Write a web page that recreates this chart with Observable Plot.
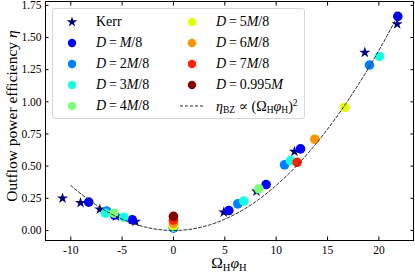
<!DOCTYPE html>
<html>
<head>
<meta charset="utf-8">
<script src="https://cdn.jsdelivr.net/npm/d3@7"></script>
<script src="https://cdn.jsdelivr.net/npm/@observablehq/plot@0.6"></script>
<style>
  html, body { margin: 0; padding: 0; background: white; }
  #wrap { position: relative; width: 415px; height: 274px; font-family: "Liberation Serif", "DejaVu Serif", serif; color: #000; }
  #wrap > svg { position: absolute; left: 0; top: 0; }
  .ylab { position: absolute; left: 12px; top: 116px; transform: translate(-50%, -50%) rotate(-90deg); white-space: nowrap; font-size: 15.5px; }
  .xlab { position: absolute; left: 229px; top: 263px; transform: translate(-50%, -50%); white-space: nowrap; font-size: 15.5px; }
  .legend { position: absolute; left: 52px; top: 8px; width: 253px; height: 111px; border: 1px solid #d6d6d6; border-radius: 3px; background: rgba(255,255,255,0.85); box-sizing: border-box; }
  .entry { position: absolute; height: 20px; display: flex; align-items: center; white-space: nowrap; font-size: 14px; }
  .entry svg { display: block; margin-right: 0; }
  i { font-style: italic; }
  sub { font-size: 68%; vertical-align: -0.25em; line-height: 0; }
  sup { font-size: 68%; vertical-align: 0.55em; line-height: 0; }
</style>
</head>
<body>
<div id="wrap"></div>
<script>
// ---- data ----
const xTicks = [-10, -5, 0, 5, 10, 15, 20];
const yTicks = [0, 0.25, 0.5, 0.75, 1.0, 1.25, 1.5, 1.75];

const kerrX = [-10.8, -9.05, -7.17, -5.6, -3.7, 4.9, 8.08, 11.78, 18.63, 21.78];
const kerrY = [0.25, 0.215, 0.165, 0.11, 0.07, 0.142, 0.305, 0.613, 1.384, 1.605];

const seriesNames = ["D = M/8", "D = 2M/8", "D = 3M/8", "D = 4M/8", "D = 5M/8", "D = 6M/8", "D = 7M/8", "D = 0.995M"];
const seriesColors = ["#0000ff", "#0080ff", "#15ffe1", "#7cff79", "#e2ff00", "#ff9600", "#ff2200", "#850000"];
const seriesX = [
  [-8.25, -5.74, -4.02, 0, 5.39, 9.02, 12.37, 21.84],
  [-6.5, 0, 6.26, 10.81, 19.08],
  [-6.62, -4.84, 0, 6.85, 11.39, 20.06],
  [-5.8, 0, 8.31],
  [0, 16.68],
  [0, 13.76],
  [0, 12.04],
  [0]
];
const seriesY = [
  [0.22, 0.12, 0.083, 0.02, 0.155, 0.357, 0.634, 1.664],
  [0.15, 0.022, 0.207, 0.51, 1.286],
  [0.134, 0.103, 0.026, 0.228, 0.543, 1.353],
  [0.134, 0.03, 0.324],
  [0.04, 0.957],
  [0.055, 0.709],
  [0.08, 0.53],
  [0.11]
];

// Blandford–Znajek fit curve: eta = k * (Omega_H phi_H)^2
const bzK = 0.0035;
const bzRange = [-10, 22];
const bzSteps = 160;

// ---- build tables ----
const kerr = kerrX.map((x, i) => ({x, y: kerrY[i]}));
const pts = [];
seriesNames.forEach((name, s) => {
  seriesX[s].forEach((x, i) => pts.push({x, y: seriesY[s][i], s: name}));
});
const curve = d3.range(bzSteps + 1).map(i => {
  const x = bzRange[0] + (bzRange[1] - bzRange[0]) * i / bzSteps;
  return {x, y: bzK * x * x};
});

const fmtX = d => (d < 0 ? "-" : "") + Math.abs(d);
const chart = Plot.plot({
  width: 415, height: 274,
  marginLeft: 45, marginRight: 2, marginTop: 1, marginBottom: 34,
  x: {domain: [-12.46, 23.37]},
  y: {domain: [-0.078, 1.78]},
  color: {domain: seriesNames, range: seriesColors},
  style: {fontFamily: "'Liberation Serif', 'DejaVu Serif', serif", fontSize: "11.5px", background: "transparent", color: "black"},
  marks: [
    Plot.dot(kerr, {x: "x", y: "y", symbol: "star", r: 3.5, fill: "#000080", stroke: "none"}),
    Plot.dot(pts, {x: "x", y: "y", fill: "s", r: 4.8, stroke: "none"}),
    Plot.line(curve, {x: "x", y: "y", stroke: "#2a2a2a", strokeWidth: 1, strokeDasharray: "3,2"}),
    Plot.frame({stroke: "black", strokeWidth: 1}),
    Plot.axisX({anchor: "bottom", ticks: xTicks, tickSize: -3.5, tickPadding: 9, tickFormat: fmtX, label: null}),
    Plot.axisX({anchor: "top", ticks: xTicks, tickSize: -3.5, tickFormat: () => "", label: null}),
    Plot.axisY({anchor: "left", ticks: yTicks, tickSize: -3.5, tickPadding: 7.5, tickFormat: d => d.toFixed(2), label: null}),
    Plot.axisY({anchor: "right", ticks: yTicks, tickSize: -3.5, tickFormat: () => "", label: null})
  ]
});

const wrap = document.getElementById("wrap");
wrap.appendChild(chart);

const ylab = document.createElement("div");
ylab.className = "ylab";
ylab.innerHTML = "Outflow power efficiency <i>η</i>";
wrap.appendChild(ylab);

const xlab = document.createElement("div");
xlab.className = "xlab";
xlab.innerHTML = "Ω<sub>H</sub><i>φ</i><sub>H</sub>";
wrap.appendChild(xlab);

// legend
const legend = document.createElement("div");
legend.className = "legend";
const entries = [{kind: "star", html: "Kerr"}];
seriesNames.forEach((n, i) => {
  const m = n.replace("D = ", "");
  const html = "<i>D</i>&thinsp;=&thinsp;" + m.replace("M", "<i>M</i>");
  entries.push({kind: "dot", color: seriesColors[i], html});
});
entries.push({kind: "line", html: "<i>η</i><sub>BZ</sub> ∝ (Ω<sub>H</sub><i>φ</i><sub>H</sub>)<sup>2</sup>"});
entries.forEach((e, i) => {
  const col = i < 5 ? 0 : 1;
  const row = i < 5 ? i : i - 5;
  const div = document.createElement("div");
  div.className = "entry";
  div.style.left = (col === 0 ? 6 : 126) + "px";
  div.style.top = (3 + row * 21) + "px";
  let sym;
  if (e.kind === "star") {
    sym = `<svg width="26" height="20"><path transform="translate(13,10)" d="${d3.symbol(d3.symbolStar, 34)()}" fill="#000080"/></svg>`;
  } else if (e.kind === "dot") {
    sym = `<svg width="26" height="20"><circle cx="13" cy="10" r="4.2" fill="${e.color}"/></svg>`;
  } else {
    sym = `<svg width="26" height="20"><line x1="1" x2="25" y1="10" y2="10" stroke="#2a2a2a" stroke-width="1" stroke-dasharray="3,2"/></svg>`;
  }
  div.innerHTML = sym + "<span style='margin-left:11px'>" + e.html + "</span>";
  legend.appendChild(div);
});
wrap.appendChild(legend);
</script>
</body>
</html>
